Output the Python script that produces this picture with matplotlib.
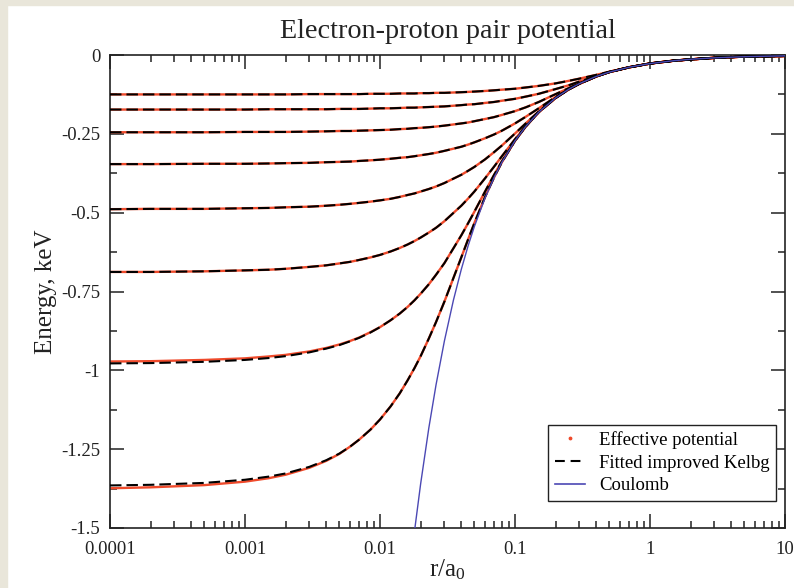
import matplotlib
matplotlib.use("Agg")
import matplotlib.pyplot as plt
from matplotlib.lines import Line2D
from matplotlib.patches import Rectangle

# ---------------- data ----------------
r_grid = [1e-4, 2e-4, 5e-4, 1e-3, 1.5e-3, 2e-3, 3e-3, 4e-3, 5e-3, 6e-3, 7e-3, 8.5e-3,
          0.01, 0.012, 0.014, 0.016, 0.018, 0.02, 0.023, 0.026, 0.03, 0.04, 0.045, 0.05,
          0.06, 0.07, 0.08, 0.1, 0.12, 0.15, 0.2, 0.25, 0.3, 0.4, 0.5, 0.7, 1, 1.5, 2, 3, 5, 10]

tail = [-0.068, -0.054, -0.039, -0.027, -0.018, -0.014, -0.009, -0.005, -0.003]

eff1 = [-0.125, -0.125, -0.125, -0.125, -0.125, -0.125, -0.124, -0.124, -0.124, -0.124, -0.124, -0.123,
        -0.123, -0.123, -0.122, -0.122, -0.122, -0.121, -0.121, -0.120, -0.120, -0.118, -0.117, -0.116,
        -0.114, -0.112, -0.110, -0.107, -0.103, -0.098, -0.090, -0.082, -0.075,
        -0.063, -0.053, -0.039, -0.027, -0.018, -0.014, -0.009, -0.005, -0.003]
eff2 = [-0.173, -0.173, -0.173, -0.173, -0.172, -0.172, -0.172, -0.172, -0.171, -0.171, -0.171, -0.170,
        -0.169, -0.169, -0.168, -0.167, -0.167, -0.166, -0.165, -0.164, -0.163, -0.159, -0.157, -0.156,
        -0.152, -0.149, -0.145, -0.139, -0.132, -0.123, -0.108, -0.096, -0.084,
        -0.067, -0.054, -0.039, -0.027, -0.018, -0.014, -0.009, -0.005, -0.003]
eff3 = [-0.245, -0.245, -0.245, -0.244, -0.244, -0.244, -0.243, -0.242, -0.241, -0.241, -0.240, -0.239,
        -0.238, -0.237, -0.235, -0.234, -0.232, -0.231, -0.229, -0.227, -0.224, -0.217, -0.214, -0.210,
        -0.203, -0.197, -0.190, -0.178, -0.166, -0.149, -0.124, -0.105, -0.089] + tail
eff4 = [-0.346, -0.346, -0.345, -0.345, -0.344, -0.343, -0.342, -0.340, -0.339, -0.338, -0.336, -0.334,
        -0.332, -0.329, -0.326, -0.324, -0.321, -0.318, -0.314, -0.310, -0.304, -0.291, -0.284, -0.277,
        -0.264, -0.252, -0.240, -0.217, -0.196, -0.169, -0.133, -0.108, -0.091] + tail
eff5 = [-0.489, -0.488, -0.488, -0.486, -0.485, -0.483, -0.481, -0.478, -0.475, -0.472, -0.469, -0.465,
        -0.461, -0.456, -0.450, -0.444, -0.439, -0.433, -0.425, -0.417, -0.406, -0.380, -0.367, -0.355,
        -0.331, -0.308, -0.287, -0.249, -0.217, -0.179, -0.136, -0.109, -0.091] + tail
eff6 = [-0.688, -0.688, -0.686, -0.683, -0.681, -0.678, -0.672, -0.667, -0.661, -0.656, -0.650, -0.642,
        -0.634, -0.623, -0.612, -0.601, -0.590, -0.579, -0.563, -0.548, -0.527, -0.478, -0.455, -0.433,
        -0.391, -0.354, -0.321, -0.267, -0.225, -0.181, -0.136, -0.109, -0.091] + tail
eff7 = [-0.972, -0.971, -0.967, -0.962, -0.956, -0.951, -0.940, -0.929, -0.918, -0.907, -0.896, -0.879,
        -0.863, -0.841, -0.820, -0.799, -0.778, -0.757, -0.727, -0.697, -0.660, -0.572, -0.533, -0.497,
        -0.433, -0.380, -0.337, -0.272, -0.227, -0.181, -0.136, -0.109, -0.091] + tail
eff8 = [-1.374, -1.371, -1.364, -1.353, -1.342, -1.331, -1.309, -1.287, -1.265, -1.242, -1.220, -1.188,
        -1.156, -1.114, -1.073, -1.032, -0.993, -0.955, -0.899, -0.847, -0.782, -0.642, -0.584, -0.533,
        -0.450, -0.388, -0.340, -0.272, -0.227, -0.181, -0.136, -0.109, -0.091] + tail

# fitted improved Kelbg: coincides with the effective potential except at small r for the two deepest curves
fit7 = [-0.978, -0.977, -0.973, -0.967, -0.961, -0.955, -0.943, -0.931, -0.920, -0.908, -0.897, -0.880,
        -0.863, -0.841, -0.820, -0.799, -0.778, -0.757, -0.727, -0.697, -0.660, -0.572, -0.533, -0.497,
        -0.433, -0.380, -0.337, -0.272, -0.227, -0.181, -0.136, -0.109, -0.091] + tail
fit8 = [-1.365, -1.363, -1.357, -1.347, -1.337, -1.327, -1.306, -1.285, -1.264, -1.242, -1.220, -1.188,
        -1.156, -1.114, -1.073, -1.032, -0.993, -0.955, -0.899, -0.847, -0.782, -0.642, -0.584, -0.533,
        -0.450, -0.388, -0.340, -0.272, -0.227, -0.181, -0.136, -0.109, -0.091] + tail

effective = [eff1, eff2, eff3, eff4, eff5, eff6, eff7, eff8]
fitted = [eff1, eff2, eff3, eff4, eff5, eff6, fit7, fit8]

r_coul = [0.018, 0.02, 0.023, 0.026, 0.03, 0.035, 0.04, 0.045, 0.05, 0.06, 0.07, 0.08, 0.1, 0.12,
          0.15, 0.2, 0.25, 0.3, 0.4, 0.5, 0.7, 1, 1.5, 2, 3, 5, 10]
e_coul = [-1.5111, -1.3600, -1.1826, -1.0462, -0.9067, -0.7771, -0.6800, -0.6044, -0.5440, -0.4533,
          -0.3886, -0.3400, -0.2720, -0.2267, -0.1813, -0.1360, -0.1088, -0.0907, -0.0680, -0.0544,
          -0.0389, -0.0272, -0.0181, -0.0136, -0.0091, -0.0054, -0.0027]

xticks = [1e-4, 1e-3, 1e-2, 1e-1, 1, 10]
xticklabels = ["0.0001", "0.001", "0.01", "0.1", "1", "10"]
yticks = [0, -0.25, -0.5, -0.75, -1, -1.25, -1.5]
yticklabels = ["0", "-0.25", "-0.5", "-0.75", "-1", "-1.25", "-1.5"]

# ---------------- style ----------------
plt.rcParams['font.family'] = ['Liberation Serif', 'DejaVu Serif']
plt.rcParams['mathtext.fontset'] = 'stix'
RED = '#ef4a2b'
BLUE = '#4b48b4'
BG = '#e9e6da'
INK = '#222222'

fig = plt.figure(figsize=(7.94, 5.88), dpi=100)
fig.patch.set_facecolor('white')
fig.patches.append(Rectangle((0, 0), 7 / 794, 1, transform=fig.transFigure, color=BG, zorder=0))
fig.patches.append(Rectangle((0, 1 - 5 / 588), 1, 5 / 588, transform=fig.transFigure, color=BG, zorder=0))

ax = fig.add_axes([110 / 794, 60 / 588, 675 / 794, 473 / 588])

for e in effective:
    ax.plot(r_grid, e, color=RED, lw=1.7, zorder=2)
for f in fitted:
    ax.plot(r_grid, f, color='black', lw=1.5, dashes=(5.5, 2.4), zorder=3)
ax.plot(r_coul, e_coul, color=BLUE, lw=1.0, zorder=4)

ax.set_xscale('log')
ax.set_xlim(1e-4, 10)
ax.set_ylim(-1.5, 0)
ax.set_xticks(xticks)
ax.set_xticklabels(xticklabels)
ax.set_yticks(yticks)
ax.set_yticklabels(yticklabels)
ax.set_yticks([-0.125, -0.375, -0.625, -0.875, -1.125, -1.375], minor=True)

for s in ax.spines.values():
    s.set_linewidth(1.2)
    s.set_color(INK)
ax.tick_params(which='both', direction='in', top=True, right=True, colors=INK, width=1.1)
ax.tick_params(which='major', length=10, pad=7, labelsize=13.5, labelcolor=INK)
ax.tick_params(axis='x', which='major', pad=9)
ax.tick_params(which='minor', length=5)

ax.set_title("Electron-proton pair potential", fontsize=20.3, pad=12, color=INK)
ax.set_ylabel("Energy, keV", fontsize=18, labelpad=3, color=INK)
ax.set_xlabel(r"r/a$_\mathregular{0}$", fontsize=18, labelpad=0, color=INK)

handles = [
    Line2D([], [], ls='none', marker='.', markersize=3.5, color=RED),
    Line2D([], [], color='black', lw=1.5, dashes=(4.7, 2.8)),
    Line2D([], [], color=BLUE, lw=1.2),
]
labels = ["Effective potential", "Fitted improved Kelbg", "Coulomb"]
leg = ax.legend(handles, labels, loc='lower right', bbox_to_anchor=(0.987, 0.057),
                borderaxespad=0, fontsize=13.5, frameon=True, fancybox=False,
                edgecolor=INK, framealpha=1, handlelength=1.6, handletextpad=0.75,
                labelspacing=0.3, borderpad=0.35)
leg.get_frame().set_linewidth(1.0)

fig.savefig("out.png", dpi=100, facecolor=fig.get_facecolor())
